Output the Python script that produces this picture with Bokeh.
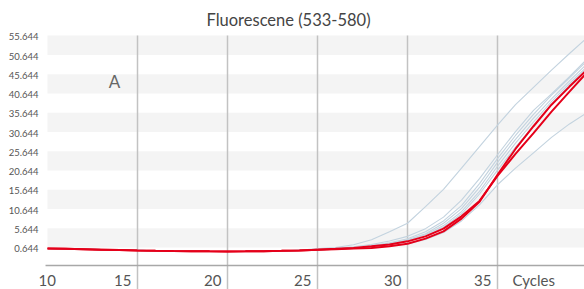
from bokeh.plotting import figure
from bokeh.models import Label, Range1d
from bokeh.embed import file_html
from bokeh.resources import INLINE

# ---------------- data ----------------
cycles = list(range(10, 41))
x_tick_values = [10, 15, 20, 25, 30, 35]
x_tick_labels = ["10", "15", "20", "25", "30", "35"]
x_axis_title = "Cycles"
y_tick_values = [0.644, 5.644, 10.644, 15.644, 20.644, 25.644, 30.644, 35.644, 40.644, 45.644, 50.644, 55.644]
y_tick_labels = ["0.644", "5.644", "10.644", "15.644", "20.644", "25.644", "30.644", "35.644", "40.644", "45.644", "50.644", "55.644"]
band_lo = [0.9, 10.9, 20.9, 30.9, 40.9, 50.9]
band_hi = [5.9, 15.9, 25.9, 35.9, 45.9, 56.0]
title_text = "Fluorescene (533-580)"
panel_text = "A"

# shared flat baseline, cycles 10..24
baseline = [0.64, 0.55, 0.45, 0.35, 0.25, 0.15, 0.07, 0.0, -0.05, -0.1, -0.12, -0.1, -0.05, 0.03, 0.15]

# cycles 25..40
red_1 = [0.3, 0.45, 0.65, 0.8, 1.2, 1.9, 3.2, 5.1, 8.4, 12.8, 19.8, 26.5, 32.4, 38.0, 42.7, 47.2]
red_2 = [0.35, 0.55, 0.8, 1.2, 1.7, 2.5, 3.8, 5.8, 9.0, 13.0, 19.5, 25.2, 30.6, 36.2, 41.4, 46.5]

blue_a = [0.6, 0.9, 1.6, 2.9, 5.0, 7.2, 11.5, 16.0, 21.5, 27.1, 32.7, 38.0, 42.5, 47.0, 51.3, 55.5]
blue_b = [0.4, 0.7, 1.1, 1.7, 2.6, 3.8, 5.8, 8.8, 13.2, 18.8, 25.0, 31.0, 36.5, 40.8, 45.3, 50.0]
blue_c = [0.35, 0.6, 0.9, 1.4, 2.1, 3.2, 5.0, 7.8, 11.8, 17.5, 24.0, 30.0, 35.5, 40.5, 45.0, 49.5]
blue_d = [0.35, 0.55, 0.85, 1.3, 1.9, 2.9, 4.5, 7.2, 11.0, 16.5, 23.0, 29.0, 34.5, 39.5, 44.2, 48.7]
blue_e = [0.3, 0.5, 0.8, 1.2, 1.8, 2.7, 4.2, 6.6, 10.2, 15.5, 22.0, 28.0, 33.5, 38.8, 43.5, 48.0]
blue_f = [0.3, 0.5, 0.75, 1.1, 1.6, 2.5, 3.9, 6.2, 9.6, 14.8, 21.0, 27.0, 32.5, 38.0, 43.0, 47.6]
blue_g = [0.3, 0.45, 0.7, 1.0, 1.3, 1.8, 3.0, 4.8, 7.8, 12.0, 17.2, 21.5, 25.5, 29.5, 33.0, 36.0]

blue_series = [blue_a, blue_b, blue_c, blue_d, blue_e, blue_f, blue_g]
red_series = [red_1, red_2]

# ---------------- figure ----------------
X_MIN, X_MAX = 7.389, 39.833
Y_MIN, Y_MAX = -10.005, 65.06
Y_TOP = 55.97          # top of the plotting area
AXIS_Y = -3.77         # baseline of the x axis
LABEL_Y = -7.6
TITLE_X, TITLE_Y = 23.39, 60.1
FONT = "Lato"
TXT = "#555555"

p = figure(width=584, height=289, output_backend="svg", toolbar_location=None,
           x_range=Range1d(X_MIN, X_MAX), y_range=Range1d(Y_MIN, Y_MAX),
           x_axis_location=None, y_axis_location=None,
           min_border_left=0, min_border_right=0, min_border_top=0, min_border_bottom=0)
p.outline_line_color = None
p.grid.visible = False
p.background_fill_color = "white"
p.border_fill_color = "white"

# horizontal bands
p.quad(left=cycles[0], right=cycles[-1], bottom=band_lo, top=band_hi,
       fill_color="#f4f4f4", line_color=None)

# vertical grid lines
vx = x_tick_values[1:]
p.segment(x0=vx, x1=vx, y0=[Y_MIN] * len(vx), y1=[Y_TOP] * len(vx),
          line_color="#c2c2c2", line_width=1.5)

# x axis line
p.segment(x0=[cycles[0] - 0.11], x1=[cycles[-1]], y0=[AXIS_Y], y1=[AXIS_Y],
          line_color="#a8a8a8", line_width=1.5)

# curves
for s in blue_series:
    p.line(cycles, baseline + s, line_color="#c3d3df", line_width=1.1)
for s in red_series:
    p.line(cycles, baseline + s, line_color="#e5001a", line_width=2)

# y tick labels
for v, s in zip(y_tick_values, y_tick_labels):
    p.add_layout(Label(x=cycles[0], y=v, text=s, text_align="right", x_offset=-9,
                       text_baseline="middle", text_font=FONT,
                       text_font_size="9.5px", text_color=TXT))

# x tick labels
for v, s in zip(x_tick_values, x_tick_labels):
    if v == x_tick_values[0]:
        lab = Label(x=v, y=LABEL_Y, text=s, text_align="left", x_offset=-9)
    else:
        lab = Label(x=v, y=LABEL_Y, text=s, text_align="right", x_offset=-6)
    lab.text_baseline = "middle"
    lab.text_font = FONT
    lab.text_font_size = "15px"
    lab.text_color = TXT
    p.add_layout(lab)

p.add_layout(Label(x=x_tick_values[-1], y=LABEL_Y, text=x_axis_title, text_align="left",
                   x_offset=15, text_baseline="middle", text_font=FONT,
                   text_font_size="15px", text_color=TXT))

# title
p.add_layout(Label(x=TITLE_X, y=TITLE_Y, text=title_text, text_align="center",
                   text_baseline="middle", text_font=FONT, text_font_size="16.5px",
                   text_color="#444444"))

# panel letter
p.add_layout(Label(x=13.72, y=44.0, text=panel_text, text_align="center",
                   text_baseline="middle", text_font=FONT, text_font_size="17px",
                   text_color="#666666"))

open("out.html", "w").write(file_html(p, INLINE))
